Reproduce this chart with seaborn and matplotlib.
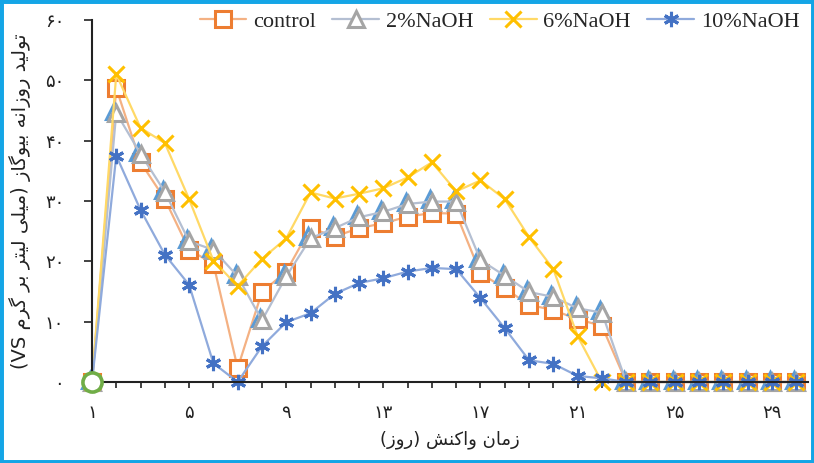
"""
Daily biogas production vs reaction time (control / NaOH pretreatments)
"""
import re
import numpy as np
import pandas as pd
import matplotlib
matplotlib.use('Agg')
import matplotlib.pyplot as plt
import matplotlib.transforms as mtransforms
from matplotlib.patches import Rectangle
import seaborn as sns

# ── data ──
days = list(range(1, 31))
control = [0, 48.7, 36.4, 30.3, 21.9, 19.6, 2.3, 14.9, 18.3, 25.5, 24.1, 25.5, 26.3, 27.4, 28.0,
           27.9, 18.0, 15.5, 12.8, 11.9, 10.4, 9.3, 0, 0, 0, 0, 0, 0, 0, 0]
naoh2 = [0, 44.6, 37.8, 31.5, 23.3, 21.9, 17.5, 10.2, 17.5, 23.8, 25.5, 27.3, 28.2, 29.5, 29.9,
         29.9, 20.2, 17.6, 14.9, 14.1, 12.2, 11.5, 0, 0, 0, 0, 0, 0, 0, 0]
naoh6 = [0, 51.0, 42.1, 39.6, 30.3, 20.1, 15.9, 20.4, 23.8, 31.4, 30.4, 31.2, 32.1, 33.9, 36.4,
         31.6, 33.4, 30.3, 24.0, 18.7, 7.6, 0, 0, 0, 0, 0, 0, 0, 0, 0]
naoh10 = [0, 37.5, 28.5, 21.1, 16.1, 3.1, 0, 5.9, 9.9, 11.4, 14.6, 16.4, 17.2, 18.3, 18.9,
          18.7, 13.9, 8.9, 3.6, 3.0, 1.0, 0.6, 0, 0, 0, 0, 0, 0, 0, 0]
start_day = [1]
start_val = [0]

labels = ['control', '2%NaOH', '6%NaOH', '10%NaOH']
xticks_shown = [1, 5, 9, 13, 17, 21, 25, 29]
yticks = [0, 10, 20, 30, 40, 50, 60]

xlabel_fa = 'زمان واکنش (روز)'
ylabel_fa = 'تولید روزانه بیوگاز (میلی لیتر بر گرم VS)'

# ── minimal Persian shaping (no reshaper lib available) ──
FORMS = {
    'ا': ('\uFE8D', '\uFE8E', None, None),
    'ب': ('\uFE8F', '\uFE90', '\uFE91', '\uFE92'),
    'ت': ('\uFE95', '\uFE96', '\uFE97', '\uFE98'),
    'د': ('\uFEA9', '\uFEAA', None, None),
    'ر': ('\uFEAD', '\uFEAE', None, None),
    'ز': ('\uFEAF', '\uFEB0', None, None),
    'ش': ('\uFEB5', '\uFEB6', '\uFEB7', '\uFEB8'),
    'ل': ('\uFEDD', '\uFEDE', '\uFEDF', '\uFEE0'),
    'م': ('\uFEE1', '\uFEE2', '\uFEE3', '\uFEE4'),
    'ن': ('\uFEE5', '\uFEE6', '\uFEE7', '\uFEE8'),
    'ه': ('\uFEE9', '\uFEEA', '\uFEEB', '\uFEEC'),
    'و': ('\uFEED', '\uFEEE', None, None),
    'ی': ('\uFBFC', '\uFBFD', '\uFBFE', '\uFBFF'),
    'ک': ('\uFB8E', '\uFB8F', '\uFB90', '\uFB91'),
    'گ': ('\uFB92', '\uFB93', '\uFB94', '\uFB95'),
}


def fa(s):
    out = []
    for i, c in enumerate(s):
        if c not in FORMS:
            out.append(c)
            continue
        prev = s[i - 1] if i > 0 else ''
        nxt = s[i + 1] if i + 1 < len(s) else ''
        jp = prev in FORMS and FORMS[prev][2] is not None
        jn = FORMS[c][2] is not None and nxt in FORMS
        iso, fin, ini, med = FORMS[c]
        out.append(med if (jp and jn) else fin if jp else ini if jn else iso)
    vis = ''.join(out)[::-1]
    vis = vis.translate(str.maketrans('()', ')('))
    return re.sub(r'[A-Za-z0-9]+', lambda m: m.group(0)[::-1], vis)


def fa_num(n):
    return str(n).translate(str.maketrans('0123456789', '۰۱۲۳۴۵۶۷۸۹'))


sns.set_theme(style='ticks')
plt.rcParams['font.family'] = ['DejaVu Sans']

df = pd.DataFrame({'day': days, 'control': control, '2%NaOH': naoh2,
                   '6%NaOH': naoh6, '10%NaOH': naoh10})

styles = {
    'control': dict(color='#F4B183', marker='s', mec='#ED7D31', mfc='white'),
    '2%NaOH': dict(color='#B4BFD2', marker='^', mec='#A5A5A5', mfc='white'),
    '6%NaOH': dict(color='#FFD966', marker='x', mec='#FFC000', mfc='white'),
    '10%NaOH': dict(color='#8FAADC', marker=(6, 2, 0), mec='#4472C4', mfc='#4472C4'),
}

fig = plt.figure(figsize=(8.14, 4.63), dpi=100)
ax = fig.add_axes([0.113, 0.175, 0.880, 0.782])

handles = []
for name in labels:
    st = styles[name]
    if name == '2%NaOH':
        # faint blue shadow behind the grey triangles
        shadow = ax.transData + mtransforms.ScaledTranslation(-1.5 / 72, 1.5 / 72, fig.dpi_scale_trans)
        ax.plot(df['day'], df[name], linestyle='none', marker='^', markersize=11,
                markeredgewidth=2.2, markeredgecolor='#5B9BD5', markerfacecolor='none',
                transform=shadow, clip_on=False)
    sns.lineplot(data=df, x='day', y=name, ax=ax, color=st['color'], linewidth=1.6,
                 marker=st['marker'], markersize=11, markeredgewidth=2.2,
                 markeredgecolor=st['mec'], markerfacecolor=st['mfc'], clip_on=False)
    handles.append(ax.lines[-1])

sns.scatterplot(x=start_day, y=start_val, ax=ax, marker='o', s=190, facecolor='white',
                edgecolor='#70AD47', linewidth=2.6, clip_on=False, zorder=5)

ax.set_xlim(1, 30.5)
ax.set_ylim(0, 60)
ax.set_xticks(days)
ax.set_xticklabels([fa_num(d) if d in xticks_shown else '' for d in days], fontsize=13)
ax.set_yticks(yticks)
ax.set_yticklabels([fa_num(v) for v in yticks], fontsize=13)
ax.tick_params(axis='x', length=4, width=1.2, pad=12, colors='#222222')
ax.tick_params(axis='y', length=6, width=1.2, pad=14, colors='#222222')
sns.despine(ax=ax)
ax.spines['left'].set_linewidth(1.5)
ax.spines['bottom'].set_linewidth(1.5)
ax.spines['left'].set_color('#222222')
ax.spines['bottom'].set_color('#222222')

ax.set_xlabel(fa(xlabel_fa), fontsize=13, labelpad=6, color='#222222')
ax.set_ylabel(fa(ylabel_fa), fontsize=14, labelpad=10, color='#222222')

ax.legend(handles, labels, loc='center right', bbox_to_anchor=(1.0, 0.995), ncol=4,
          frameon=False, prop={'family': 'Liberation Serif', 'size': 16},
          handlelength=2.1, handletextpad=0.3, columnspacing=0.75, borderaxespad=0)

fig.patches.append(Rectangle((0, 0), 1, 1, transform=fig.transFigure, fill=False,
                             edgecolor='#14A5E6', linewidth=5))

plt.savefig('out.png', dpi=100)
plt.close()
